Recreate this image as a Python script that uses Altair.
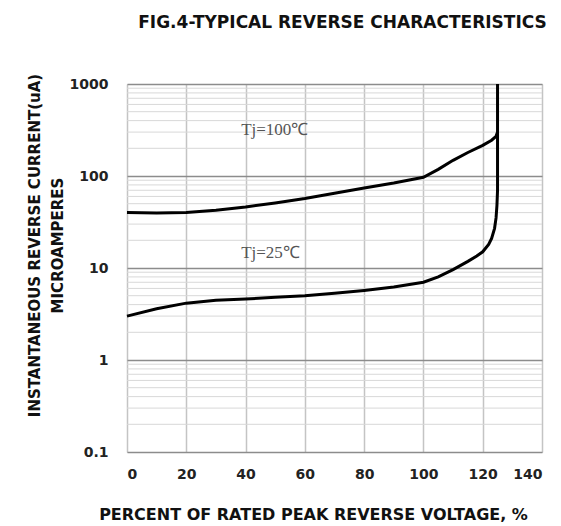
import altair as alt
import pandas as pd

# ---- data ----
x_ticks = [0, 20, 40, 60, 80, 100, 120, 140]
y_ticks = [0.1, 1, 10, 100, 1000]
minor_grid = [m * 10 ** e for e in (-1, 0, 1, 2) for m in range(2, 10)]

pct_100 = [0, 10, 20, 30, 40, 50, 60, 70, 80, 90, 100, 105, 110, 115, 120, 123, 124.5, 125]
cur_100 = [40, 39.5, 40, 42.5, 46, 51, 57, 65, 74, 84, 97, 118, 148, 180, 215, 245, 270, 300]

pct_25 = [0, 10, 20, 30, 40, 50, 60, 70, 80, 90, 100, 105, 110, 115, 118, 120, 122, 123, 124, 124.5, 124.8, 125, 125]
cur_25 = [3.0, 3.6, 4.15, 4.45, 4.6, 4.8, 5.0, 5.3, 5.7, 6.2, 7.0, 8.0, 9.6, 11.8, 13.5, 15, 18, 21, 27, 35, 48, 70, 1000]

label_text = ["Tj=100℃", "Tj=25℃"]
label_x = [38.5, 38.5]
label_y = [316, 14.6]

title = "FIG.4-TYPICAL REVERSE CHARACTERISTICS"
x_title = "PERCENT OF RATED PEAK REVERSE VOLTAGE, %"
y_title = ["INSTANTANEOUS REVERSE CURRENT(uA)", "MICROAMPERES"]

# ---- tables ----
curves = pd.DataFrame({
    "pct": pct_100 + pct_25,
    "cur": cur_100 + cur_25,
    "series": ["100"] * len(pct_100) + ["25"] * len(pct_25),
    "idx": list(range(len(pct_100))) + list(range(len(pct_25))),
})
minor_df = pd.DataFrame({"cur": minor_grid})
labels_df = pd.DataFrame({"pct": label_x, "cur": label_y, "text": label_text})

FONT = "DejaVu Sans"

xscale = alt.Scale(domain=[0, 140], nice=False)
yscale = alt.Scale(type="log", domain=[0.1, 1000], nice=False)

x_axis = alt.Axis(
    values=x_ticks, grid=True, gridColor="#c4c4c4", gridWidth=1.5,
    ticks=False, domain=False, labelFont=FONT, labelFontWeight="bold",
    labelFontSize=14, labelColor="#222", labelPadding=15,
    title=x_title, titleFont=FONT, titleFontWeight="bold", titleFontSize=16,
    titleColor="#111", titleX=186, titleY=62, titleBaseline="middle", titleAlign="center",
)
y_axis = alt.Axis(
    values=y_ticks, format=".1~f", grid=True, gridColor="#8c8c8c", gridWidth=1.5,
    ticks=False, domain=False, labelFont=FONT, labelFontWeight="bold",
    labelFontSize=14, labelColor="#222", labelPadding=19,
    title=y_title, titleFont=FONT, titleFontWeight="bold", titleFontSize=15,
    titleColor="#111", titleX=-93, titleY=161, titleAngle=270,
    titleBaseline="middle", titleAlign="center", titleLineHeight=23,
)

minor = alt.Chart(minor_df).mark_rule(color="#d8d8d8", strokeWidth=1).encode(
    y=alt.Y("cur:Q", scale=yscale, axis=y_axis)
)

lines = alt.Chart(curves).mark_line(color="black", strokeWidth=3, interpolate="linear").encode(
    x=alt.X("pct:Q", scale=xscale, axis=x_axis),
    y=alt.Y("cur:Q", scale=yscale, axis=y_axis),
    detail="series:N",
    order="idx:Q",
)

texts = alt.Chart(labels_df).mark_text(
    font="Liberation Serif", fontSize=17, color="#555", align="left", baseline="middle"
).encode(
    x=alt.X("pct:Q", scale=xscale),
    y=alt.Y("cur:Q", scale=yscale),
    text="text:N",
)

chart = alt.layer(minor, lines, texts).properties(
    width=415, height=368,
    title=alt.TitleParams(title, font=FONT, fontWeight="bold", fontSize=17,
                          color="#111", anchor="middle", dx=8, offset=24, baseline="bottom"),
    autosize=alt.AutoSizeParams(type="none"),
    padding={"left": 119, "top": 76, "right": 11, "bottom": 71},
).configure_view(stroke="black", strokeWidth=2).configure(background="white")

chart.save("out.html", embed_options={"renderer": "svg", "actions": False})
